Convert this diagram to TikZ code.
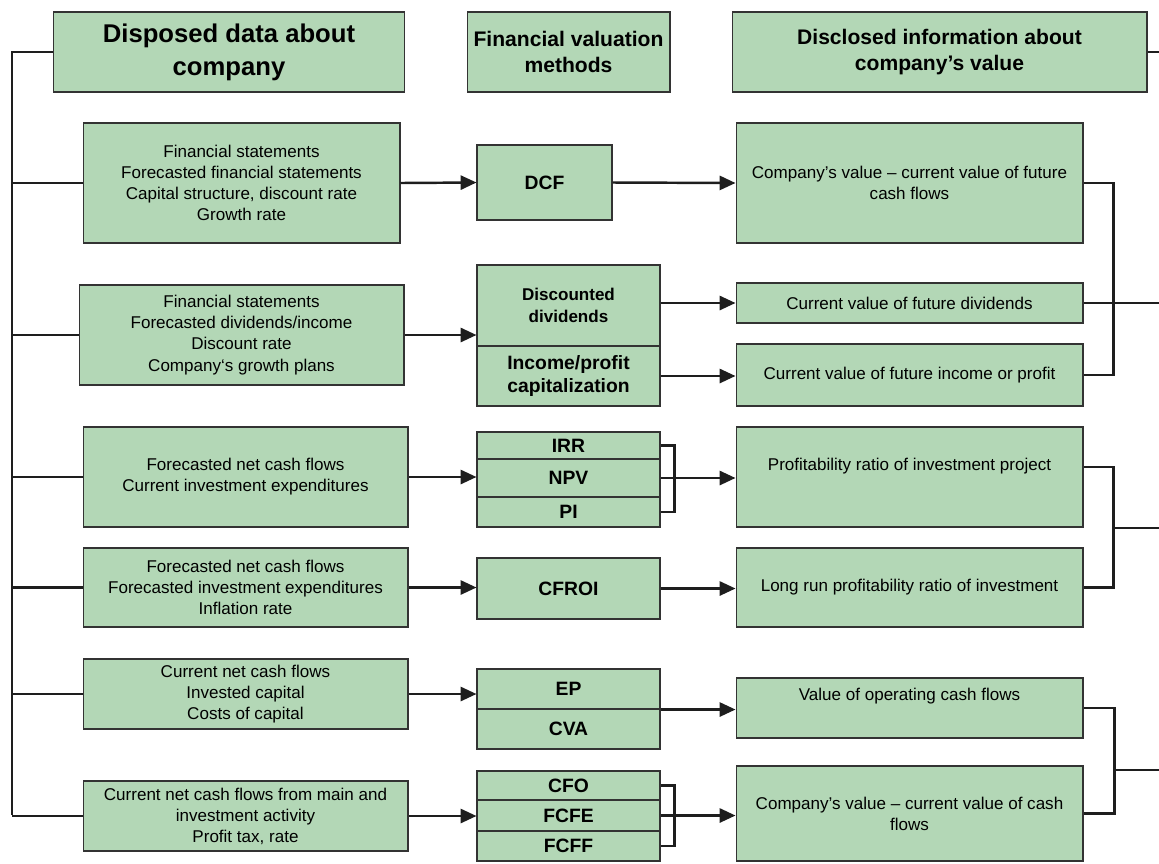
\documentclass[tikz,border=0pt]{standalone}
\usepackage{fontspec}
\setmainfont{Liberation Sans}
\usepackage{xcolor}
\usepackage{tikz}
\usetikzlibrary{positioning, arrows.meta, calc}
\definecolor{boxgreen}{HTML}{B3D7B6}
\definecolor{boxborder}{HTML}{333333}
\definecolor{linedark}{HTML}{1E1E1E}

\tikzset{
  box/.style={fill=boxgreen, draw=boxborder, line width=0.6pt, inner sep=0pt,
              align=center, font=\fontsize{9.7}{12}\selectfont},
  headbox/.style={box, minimum height=1.6cm, font=\fontsize{12}{14.8}\selectfont\bfseries},
  databox/.style={box, minimum width=6.5cm},
  methodbox/.style={box, minimum width=3.66cm, font=\fontsize{11}{13}\selectfont\bfseries},
  valuebox/.style={box, minimum width=6.94cm},
  link/.style={draw=linedark, line width=1.4pt},
  flow/.style={link, -{Triangle[length=9pt,width=8pt]}},
}

\begin{document}
\begin{tikzpicture}[x=0.02cm, y=-0.02cm]
    \useasboundingbox (0,0) rectangle (1159,863);

    % column heads
    \node[headbox, minimum width=7.04cm, font=\fontsize{14.6}{18.7}\selectfont\bfseries]
      (head-data) at (229,52) {Disposed data about\\company};
    \node[headbox, minimum width=4.06cm] (head-method) at (568.5,52) {Financial valuation\\methods};
    \node[headbox, minimum width=8.3cm] (head-value) at (939.5,52) {Disclosed information about\\company’s value};

    % disposed data
    \node[databox, minimum width=6.34cm, minimum height=2.4cm] (data1) at (241.5,183)
      {Financial statements\\Forecasted financial statements\\Capital structure, discount rate\\Growth rate};
    \node[databox, minimum height=2cm] (data2) at (241.5,335)
      {Financial statements\\Forecasted dividends/income\\Discount rate\\Company‘s growth plans};
    \node[databox, minimum height=2cm] (data3) at (245.5,477)
      {Forecasted net cash flows\\Current investment expenditures};
    \node[databox, minimum height=1.58cm] (data4) at (245.5,587.5)
      {Forecasted net cash flows\\Forecasted investment expenditures\\Inflation rate};
    \node[databox, minimum height=1.4cm] (data5) at (245.5,694)
      {Current net cash flows\\Invested capital\\Costs of capital};
    \node[databox, minimum height=1.4cm] (data6) at (245.5,816)
      {Current net cash flows from main and\\investment activity\\Profit tax, rate};

    % valuation methods
    \node[methodbox, minimum width=2.7cm, minimum height=1.5cm] (dcf) at (544.5,182.5) {DCF};
    \node[methodbox, minimum height=1.62cm, font=\fontsize{9.7}{12.5}\selectfont\bfseries]
      (ddm) at (568.5,305.5) {Discounted\\dividends};
    \node[methodbox, minimum height=1.2cm, font=\fontsize{11}{13.6}\selectfont\bfseries]
      (cap) at (568.5,376) {Income/profit\\capitalization};
    \node[methodbox, minimum height=0.54cm] (irr) at (568.5,445.5) {IRR};
    \node[methodbox, minimum height=0.76cm] (npv) at (568.5,478) {NPV};
    \node[methodbox, minimum height=0.6cm] (pi) at (568.5,512) {PI};
    \node[methodbox, minimum height=1.22cm] (cfroi) at (568.5,588.5) {CFROI};
    \node[methodbox, minimum height=0.8cm] (ep) at (568.5,689) {EP};
    \node[methodbox, minimum height=0.8cm] (cva) at (568.5,729) {CVA};
    \node[methodbox, minimum height=0.58cm] (cfo) at (568.5,785.5) {CFO};
    \node[methodbox, minimum height=0.62cm] (fcfe) at (568.5,815.5) {FCFE};
    \node[methodbox, minimum height=0.6cm] (fcff) at (568.5,846) {FCFF};

    % disclosed values
    \node[valuebox, minimum height=2.4cm] (val1) at (909.5,183)
      {Company’s value -- current value of future\\cash flows};
    \node[valuebox, minimum height=0.8cm] (val2) at (909.5,303) {Current value of future dividends};
    \node[valuebox, minimum height=1.24cm] (val3) at (909.5,375) {Current value of future income or profit};
    \node[valuebox, minimum height=2cm] (val4) at (909.5,477)
      {\raisebox{6.2pt}[\height][\depth]{Profitability ratio of investment project}};
    \node[valuebox, minimum height=1.58cm] (val5) at (909.5,587.5) {Long run profitability ratio of investment};
    \node[valuebox, minimum height=1.2cm] (val6) at (909.5,708)
      {\raisebox{6.8pt}[\height][\depth]{Value of operating cash flows}};
    \node[valuebox, minimum height=1.9cm] (val7) at (909.5,813.5)
      {Company’s value -- current value of cash\\flows};

    % left spine
    \coordinate (spine) at (12,815);
    \draw[link] (head-data.west) -| (spine);
    \foreach \n in {1,...,6}
      \draw[link] (data\n.west) -- (data\n.west -| spine);

    % data -> methods -> values
    \draw[flow] (data1.east) -- (dcf.west);
    \draw[flow] (dcf.east) -- (val1.west);
    \draw[flow] (data2.east) -- (data2.east -| ddm.west);
    \draw[flow] (ddm.east |- val2.west) -- (val2.west);
    \draw[flow] (cap.east) -- (cap.east -| val3.west);
    \draw[flow] (data3.east) -- (data3.east -| npv.west);
    \draw[flow] (npv.east) -- (npv.east -| val4.west);
    \draw[link] (irr.east) -- ++(14,0) |- (pi.east);
    \draw[flow] (data4.east) -- (data4.east -| cfroi.west);
    \draw[flow] (cfroi.east) -- (cfroi.east -| val5.west);
    \draw[flow] (data5.east) -- (data5.east -| ep.west);
    \draw[flow] (ep.south east) -- (ep.south east -| val6.west);
    \draw[flow] (data6.east) -- (data6.east -| fcfe.west);
    \draw[flow] (fcfe.east) -- (fcfe.east -| val7.west);
    \draw[link] (cfo.east) -- ++(14,0) |- (fcff.east);

    % right brackets
    \coordinate (out0) at (1159,52);
    \coordinate (out1) at (1159,303);
    \coordinate (bus2) at (1113,528);
    \coordinate (out2) at (1159,528);
    \coordinate (bus3) at (1114,770);
    \coordinate (out3) at (1159,770);
    \draw[link] (head-value.east) -- (out0);
    \draw[link] (val1.east) -- ++(30,0) |- (val3.east);
    \draw[link] (val2.east) -- (out1);
    \draw[link] ($(val4.east)+(0,-10)$) -- ++(30,0) |- (val5.east);
    \draw[link] (bus2) -- (out2);
    \draw[link] (val6.east) -- ++(31,0) |- (val7.east);
    \draw[link] (bus3) -- (out3);
  \end{tikzpicture}
\end{document}
